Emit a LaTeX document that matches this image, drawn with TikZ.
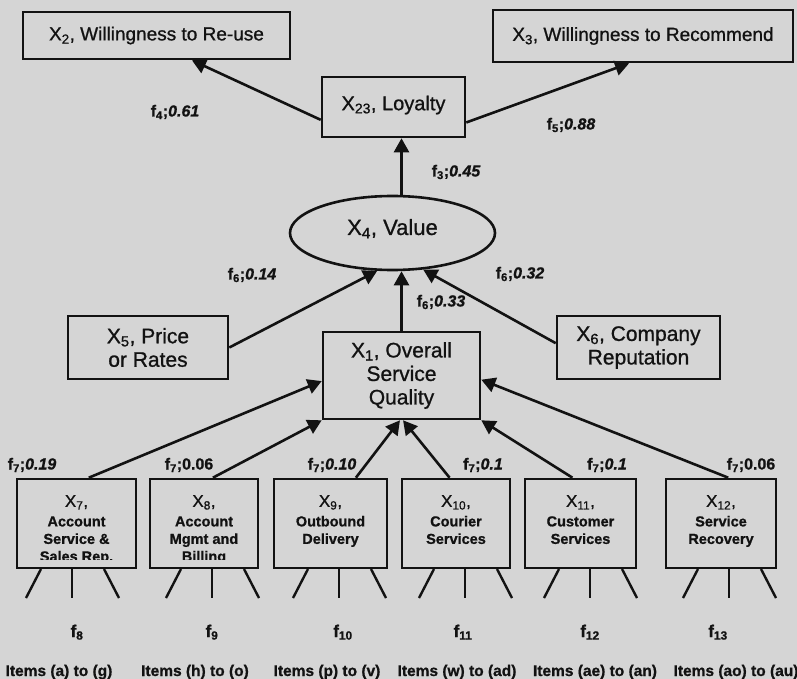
\documentclass[tikz,border=0pt]{standalone}
\usepackage{fontspec}
\setmainfont{Liberation Sans}[FakeBold=0.9]
\usetikzlibrary{arrows.meta,shapes.geometric}
\definecolor{paper}{RGB}{213,213,213}
\definecolor{ink}{RGB}{18,18,18}
\newcommand\headln[1]{{\mdseries\fontsize{17}{17.5}\selectfont #1}}
\newcommand\bi[1]{{\bfseries\itshape #1}}

\begin{document}
\begin{tikzpicture}[x=1pt,y=-1pt,
  every node/.style={text=ink},
  box/.style={draw=ink, line width=2.6pt, inner sep=0pt, align=center},
  topfont/.style={font=\fontsize{19}{22}\selectfont},
  midfont/.style={font=\fontsize{21}{23.5}\selectfont},
  arr/.style={draw=ink, line width=2.6pt, -{Triangle[length=14pt,width=15pt]}},
  leg/.style={draw=ink, line width=2.4pt},
  coef/.style={inner sep=0pt, font=\bfseries\fontsize{16}{17}\selectfont},
  lowtxt/.style={anchor=north, inner sep=0pt, align=center,
                 font=\bfseries\fontsize{14.5}{17.5}\selectfont},
  factor/.style={anchor=base, inner sep=0pt, font=\bfseries\fontsize{17}{18}\selectfont},
  items/.style={anchor=base, inner sep=0pt, font=\bfseries\fontsize{15.5}{17}\selectfont}
]
\fill[paper] (0,0) rectangle (797,679);
\useasboundingbox (0,0) rectangle (797,679);

% outcome constructs
\node[box, topfont, minimum width=267pt, minimum height=47pt] (x2) at (156.5,35.5)
  {X\textsubscript{2}, Willingness to Re-use};
\node[box, topfont, minimum width=300pt, minimum height=52pt] (x3) at (643,36)
  {X\textsubscript{3}, Willingness to Recommend};
\node[box, font=\fontsize{20}{22}\selectfont, text depth=8pt, minimum width=143pt, minimum height=60pt] (loy) at (393.5,107)
  {X\textsubscript{23}, Loyalty};

% value
\node[box, ellipse, font=\fontsize{22}{24}\selectfont, text depth=12pt, minimum width=205pt, minimum height=74pt] (val) at (392.5,233)
  {X\textsubscript{4}, Value};

% drivers of value
\node[box, midfont, minimum width=160pt, minimum height=63pt] (x5) at (148,347.5)
  {X\textsubscript{5}, Price\\or Rates};
\node[box, midfont, minimum width=157pt, minimum height=87pt] (x1) at (401.5,375.5)
  {X\textsubscript{1}, Overall\\Service\\Quality};
\node[box, midfont, minimum width=163pt, minimum height=63pt] (x6) at (638.5,347.5)
  {X\textsubscript{6}, Company\\Reputation};

% service quality dimensions
\node[box, minimum width=119pt, minimum height=89pt] (x7)  at (76.5,523.5) {};
\node[box, minimum width=108pt, minimum height=89pt] (x8)  at (204,523.5) {};
\node[box, minimum width=113pt, minimum height=89pt] (x9)  at (330.5,523.5) {};
\node[box, minimum width=108pt, minimum height=89pt] (x10) at (456,523.5) {};
\node[box, minimum width=111pt, minimum height=89pt] (x11) at (580.5,523.5) {};
\node[box, minimum width=110pt, minimum height=89pt] (x12) at (721,523.5) {};

\begin{scope}
  \clip (17,480) rectangle (136,559);
  \node[lowtxt] (t7) at (76.5,495) {\headln{X\textsubscript{7},}\\[2pt]Account\\Service \&\\Sales Rep.};
\end{scope}
\begin{scope}
  \clip (150,480) rectangle (258,559);
  \node[lowtxt] (t8) at (204,495) {\headln{X\textsubscript{8},}\\[2pt]Account\\Mgmt and\\Billing};
\end{scope}
\node[lowtxt] (t9)  at (330.5,495) {\headln{X\textsubscript{9},}\\[2pt]Outbound\\Delivery};
\node[lowtxt] (t10) at (456,495)   {\headln{X\textsubscript{10},}\\[2pt]Courier\\Services};
\node[lowtxt] (t11) at (580.5,495) {\headln{X\textsubscript{11},}\\[2pt]Customer\\Services};
\node[lowtxt] (t12) at (721,495)   {\headln{X\textsubscript{12},}\\[2pt]Service\\Recovery};

% structural paths
\draw[arr] (loy.190) -- (x2.-35);
\draw[arr] (loy.-12) -- (x3.243);
\draw[arr] (x1.north |- val.north) -- (x1.north |- loy.south);
\draw[arr] (x5.east) -- (val.248);
\draw[arr] (x1.north) -- (x1.north |- val.south);
\draw[arr] (x6.177) -- (val.-50);
\draw[arr] (x7.75)  -- (x1.184);
\draw[arr] (x8.79)  -- (x1.south west);
\draw[arr] (x9.61)  -- (x1.268);
\draw[arr] (x10.98) -- (x1.272);
\draw[arr] (x11.100) -- (x1.south east);
\draw[arr] (x12.81) -- (x1.-3);

% path coefficients
\node[coef] (c4)  at (175,112) {f\textsubscript{4};\bi{0.61}};
\node[coef] (c5)  at (571,125) {f\textsubscript{5};\bi{0.88}};
\node[coef] (c3)  at (456,172) {f\textsubscript{3};\bi{0.45}};
\node[coef] (c6a) at (252,275) {f\textsubscript{6};\bi{0.14}};
\node[coef] (c6b) at (441,302) {f\textsubscript{6};\bi{0.33}};
\node[coef] (c6c) at (520,274) {f\textsubscript{6};\bi{0.32}};
\node[coef] (c7a) at (32,465)  {f\textsubscript{7};\bi{0.19}};
\node[coef] (c7b) at (189,465) {f\textsubscript{7};0.06};
\node[coef] (c7c) at (332,465) {f\textsubscript{7};\bi{0.10}};
\node[coef] (c7d) at (483,465) {f\textsubscript{7};\bi{0.1}};
\node[coef] (c7e) at (607,465) {f\textsubscript{7};\bi{0.1}};
\node[coef] (c7f) at (751,465) {f\textsubscript{7};0.06};

% item legs under each dimension
\foreach \m in {72,212,339,465,590,729} {
  \draw[leg] (\m-31,569) -- (\m-46,598);
  \draw[leg] (\m,569) -- (\m,598);
  \draw[leg] (\m+32,569) -- (\m+47,598);
}

% measurement factors and items
\node[factor] (f8)  at (77,637)  {f\textsubscript{8}};
\node[factor] (f9)  at (212,637) {f\textsubscript{9}};
\node[factor] (f10) at (343,637) {f\textsubscript{10}};
\node[factor] (f11) at (463,637) {f\textsubscript{11}};
\node[factor] (f12) at (590,637) {f\textsubscript{12}};
\node[factor] (f13) at (718,637) {f\textsubscript{13}};

\node[items] (i1) at (59,676)  {Items (a) to (g)};
\node[items] (i2) at (195,676) {Items (h) to (o)};
\node[items] (i3) at (327,676) {Items (p) to (v)};
\node[items] (i4) at (457,676) {Items (w) to (ad)};
\node[items] (i5) at (595,676) {Items (ae) to (an)};
\node[items] (i6) at (736,676) {Items (ao) to (au)};
\end{tikzpicture}
\end{document}
